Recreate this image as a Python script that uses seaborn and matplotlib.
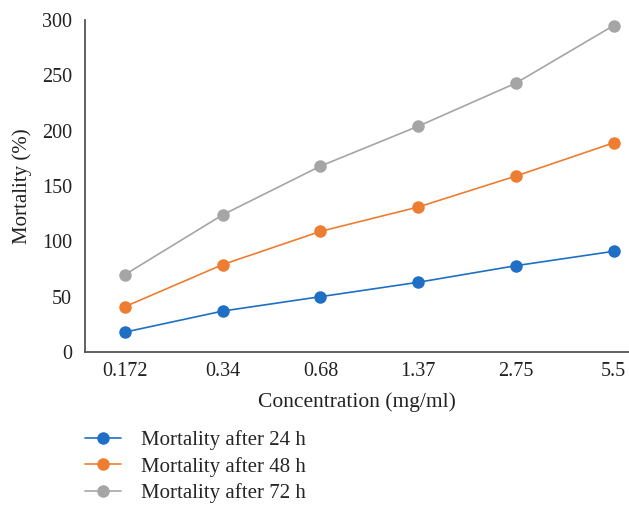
import matplotlib
matplotlib.use("Agg")
import matplotlib.pyplot as plt
import seaborn as sns
import pandas as pd

concentrations = ["0.172", "0.34", "0.68", "1.37", "2.75", "5.5"]
mortality_24h = [18, 37, 50, 63, 78, 91]
mortality_48h = [41, 79, 109, 131, 159, 189]
mortality_72h = [70, 124, 168, 204, 243, 295]
series_names = ["Mortality after 24 h", "Mortality after 48 h", "Mortality after 72 h"]
colors = ["#1F6FC5", "#ED7D31", "#A5A5A5"]

rows = []
for name, vals in zip(series_names, [mortality_24h, mortality_48h, mortality_72h]):
    for c, v in zip(concentrations, vals):
        rows.append({"Concentration": c, "Mortality": v, "Series": name})
df = pd.DataFrame(rows)

sns.set_theme(style="white")
plt.rcParams["font.family"] = ["Liberation Serif", "DejaVu Serif"]

fig = plt.figure(figsize=(6.29, 5.08), dpi=100)
ax = fig.add_axes([84.5 / 629, 1 - 352 / 508, 1 - 84.5 / 629, (352 - 20) / 508])

sns.lineplot(data=df, x="Concentration", y="Mortality", hue="Series",
             hue_order=series_names, palette=colors, marker="o",
             markersize=9, markeredgewidth=0, linewidth=1.2, sort=False,
             ax=ax)

ax.set_ylim(0, 300)
ax.set_xlim(-0.415, 5.157)
ax.set_yticks([0, 50, 100, 150, 200, 250, 300])
ax.tick_params(axis="both", length=0, labelsize=14.5, colors="#222222")
ax.tick_params(axis="y", pad=9)
ax.tick_params(axis="x", pad=7)
ax.set_xlabel("Concentration (mg/ml)", fontsize=15.5, color="#222222", labelpad=8)
ax.set_ylabel("Mortality (%)", fontsize=15, color="#222222", labelpad=7)
for s in ["top", "right"]:
    ax.spines[s].set_visible(False)
for s in ["left", "bottom"]:
    ax.spines[s].set_color("#555555")
    ax.spines[s].set_linewidth(1.3)

handles, labels = ax.get_legend_handles_labels()
ax.get_legend().remove()
fig.legend(handles, labels, loc="upper left", bbox_to_anchor=(85 / 629, 1 - 430 / 508),
           frameon=False, fontsize=15, handlelength=1.75, handletextpad=0.95,
           labelspacing=0.33, borderaxespad=0, borderpad=0)

fig.savefig("out.png", dpi=100)
